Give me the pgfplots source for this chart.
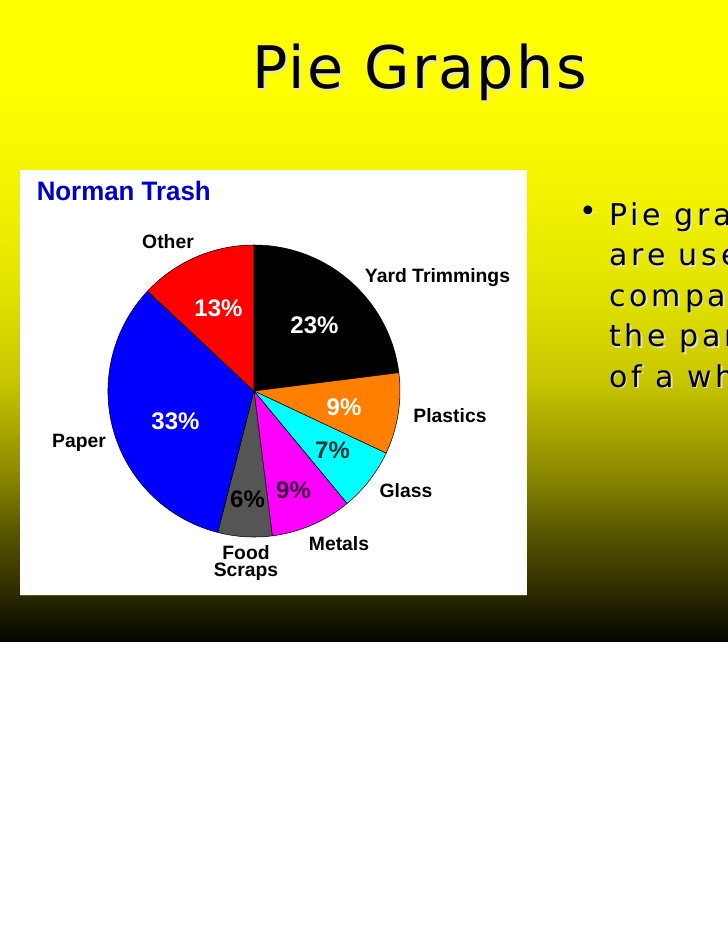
\documentclass[border=0pt]{standalone}
\usepackage{pgfplots}
\pgfplotsset{compat=1.18}
\usepackage{fontspec}
\setmainfont{Liberation Sans}
\newfontfamily\dejavu{DejaVu Sans}
\newfontfamily\dejavutitle[LetterSpace=4]{DejaVu Sans}
\newfontfamily\dejavusp[LetterSpace=13]{DejaVu Sans}
\definecolor{g0}{HTML}{FFFF00}
\definecolor{g1}{HTML}{F2F200}
\definecolor{g2}{HTML}{E0E000}
\definecolor{g3}{HTML}{C8C600}
\definecolor{g4}{HTML}{A8A600}
\definecolor{g5}{HTML}{858300}
\definecolor{g6}{HTML}{5A5800}
\definecolor{g7}{HTML}{363400}
\definecolor{g8}{HTML}{050500}
\definecolor{shadowc}{RGB}{225,225,195}
\definecolor{pieorange}{RGB}{255,128,0}
\definecolor{piecyan}{RGB}{0,255,255}
\definecolor{piemagenta}{RGB}{255,0,255}
\definecolor{pieblue}{RGB}{0,0,255}
\definecolor{piered}{RGB}{255,0,0}
\definecolor{piegray}{RGB}{85,85,85}
\definecolor{normanblue}{RGB}{0,0,200}
\definecolor{tealtxt}{HTML}{063434}
\definecolor{purptxt}{HTML}{3A003A}
\newcommand\pieslice[3]{\filldraw[fill=#3,draw=black,line width=0.4pt] (axis cs:0,0) -- ++(#1:109.5pt) arc[start angle=#1, delta angle=-3.6*#2, radius=109.5pt] -- cycle;}
\newcommand\lab[3]{\node[anchor=base,inner sep=0pt,font=\fontsize{14.5}{16}\selectfont\bfseries] at (#1,-#2) {#3};}
\newcommand\pct[4]{\node[anchor=base,inner sep=0pt,text=#4,font=\fontsize{18}{20}\selectfont\bfseries] at (#1,-#2) {#3\%};}
\begin{document}
\begin{tikzpicture}[x=0.75pt,y=0.75pt]
\path[use as bounding box] (0,0) rectangle (728,-943);
\begin{scope}
\clip (0,0) rectangle (728,-943);
\fill[white] (0,0) rectangle (728,-943);
% background gradient
\fill[g0] (0,0) rectangle (728,-80.5);
\shade[top color=g0,bottom color=g1] (0,-80) rectangle (728,-200.5);
\shade[top color=g1,bottom color=g2] (0,-200) rectangle (728,-300.5);
\shade[top color=g2,bottom color=g3] (0,-300) rectangle (728,-380.5);
\shade[top color=g3,bottom color=g4] (0,-380) rectangle (728,-430.5);
\shade[top color=g4,bottom color=g5] (0,-430) rectangle (728,-480.5);
\shade[top color=g5,bottom color=g6] (0,-480) rectangle (728,-530.5);
\shade[top color=g6,bottom color=g7] (0,-530) rectangle (728,-580.5);
\shade[top color=g7,bottom color=g8] (0,-580) rectangle (728,-641);
% title
\node[anchor=base west,inner sep=0pt,text=shadowc,font=\dejavutitle\fontsize{44}{50}\selectfont] at (254,-90) {Pie Graphs};
\node[anchor=base west,inner sep=0pt,font=\dejavutitle\fontsize{44}{50}\selectfont] at (252,-88) {Pie Graphs};
% bullet text
\foreach \t/\y in {Pie graphs/225,are used to/265.5,compare/306,the parts/346.5,of a whole./387}{
  \node[anchor=base west,inner sep=0pt,text=shadowc,font=\dejavusp\fontsize{22.5}{25}\selectfont] at (610.5,-\y-1.5) {\t};
  \node[anchor=base west,inner sep=0pt,font=\dejavusp\fontsize{22.5}{25}\selectfont] at (609,-\y) {\t};
}
\node[inner sep=0pt,text=shadowc,font=\dejavu\fontsize{22.5}{25}\selectfont] at (589.5,-215.5) {•};
\node[inner sep=0pt,font=\dejavu\fontsize{22.5}{25}\selectfont] at (588,-214) {•};
% chart box
\fill[white] (20,-170) rectangle (527,-595);
\draw[color=g6,line width=0.6pt] (20,-595) -- (527,-595);
\node[anchor=base west,inner sep=0pt,text=normanblue,font=\fontsize{20}{22}\selectfont\bfseries] at (36.5,-200) {\scalebox{0.97}[1]{Norman Trash}};
\begin{axis}[at={(190.5pt,-293.25pt)},anchor=center,width=219pt,height=219pt,scale only axis,
  hide axis,xmin=-1,xmax=1,ymin=-1,ymax=1,clip=false]
\pieslice{90}{23}{black}
\pieslice{7.2}{9}{pieorange}
\pieslice{-25.2}{7}{piecyan}
\pieslice{-50.4}{9}{piemagenta}
\pieslice{-82.8}{6}{piegray}
\pieslice{-104.4}{33}{pieblue}
\pieslice{-223.2}{13}{piered}
\end{axis}
% slice names
\lab{168}{248}{Other}
\lab{437.5}{282}{Yard Trimmings}
\lab{450}{422}{Plastics}
\lab{406}{497}{Glass}
\lab{79}{447}{Paper}
\lab{339}{550}{Metals}
\lab{246}{559.5}{Food}
\lab{246}{576.5}{Scraps}
% percentages
\pct{218.5}{316}{13}{white}
\pct{314.5}{333}{23}{white}
\pct{344}{415}{9}{white}
\pct{332.5}{458}{7}{tealtxt}
\pct{293.5}{498}{9}{purptxt}
\pct{247.5}{507}{6}{black}
\pct{175.5}{429}{33}{white}
\end{scope}
\end{tikzpicture}
\end{document}
